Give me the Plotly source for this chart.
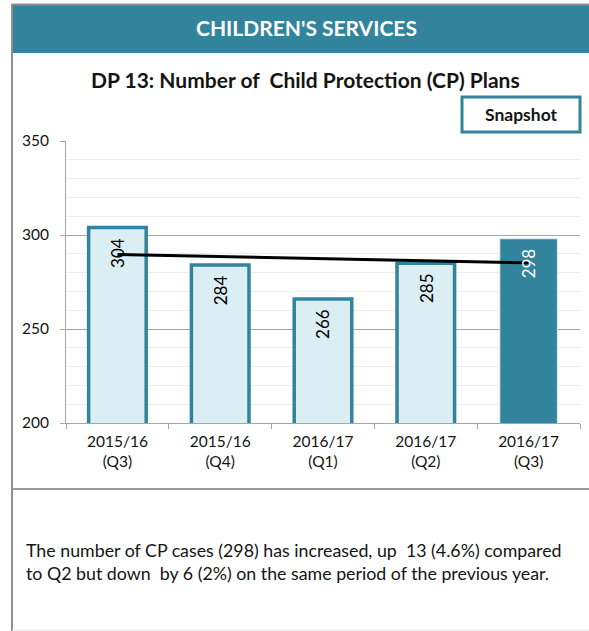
import plotly.graph_objects as go

# ---- data ----
categories = ["2015/16<br>(Q3)", "2015/16<br>(Q4)", "2016/17<br>(Q1)", "2016/17<br>(Q2)", "2016/17<br>(Q3)"]
values = [304, 284, 266, 285, 298]
trend_values = [289.6, 285.2]  # linear trend line end points
y_ticks = [200, 250, 300, 350]

header_text = "CHILDREN'S SERVICES"
title_text = "DP 13: Number of  Child Protection (CP) Plans"
badge_text = "Snapshot"
comment_lines = [
    "The number of CP cases (298) has increased, up  13 (4.6%) compared",
    "to Q2 but down  by 6 (2%) on the same period of the previous year.",
]

# ---- styles ----
W, H = 589, 631
ML, MR, MT, MB = 66, 9, 141, 208
TEAL = "#31849B"
LIGHT = "#DBEEF4"
FONT = "Lato"
TXT = "#141414"

def px(x):
    return (x - ML) / (W - ML - MR)

def py(y):
    return (H - MB - y) / (H - MT - MB)

fill_colors = [LIGHT] * (len(values) - 1) + [TEAL]
line_colors = [TEAL] * (len(values) - 1) + [LIGHT]
line_widths = [3.5] * (len(values) - 1) + [1]
label_colors = ["#000000"] * (len(values) - 1) + ["#FFFFFF"]

fig = go.Figure()
fig.add_trace(go.Bar(
    x=categories, y=values, width=0.56,
    marker=dict(color=fill_colors, line=dict(color=line_colors, width=line_widths)),
    hoverinfo="skip", showlegend=False,
))
fig.add_trace(go.Scatter(
    x=[categories[0], categories[-1]], y=trend_values, mode="lines",
    line=dict(color="#000000", width=3), hoverinfo="skip", showlegend=False,
))

annotations = []
for c, v, col in zip(categories, values, label_colors):
    annotations.append(dict(
        x=c, y=v, xref="x", yref="y", text=str(v), showarrow=False,
        textangle=-90, yshift=-25, font=dict(family=FONT, size=17, color=col),
    ))

# header
annotations.append(dict(x=px(306), y=py(28), xref="paper", yref="paper", text=f"<b>{header_text}</b>",
                        showarrow=False, xanchor="center", yanchor="middle",
                        font=dict(family=FONT, size=21, color="#FFFFFF")))
# title
annotations.append(dict(x=px(305), y=py(79), xref="paper", yref="paper", text=f"<b>{title_text}</b>",
                        showarrow=False, xanchor="center", yanchor="middle",
                        font=dict(family=FONT, size=21, color=TXT)))
# badge
annotations.append(dict(x=px(521), y=py(114), xref="paper", yref="paper", text=f"<b>{badge_text}</b>",
                        showarrow=False, xanchor="center", yanchor="middle",
                        font=dict(family=FONT, size=17.5, color=TXT)))
# comment
annotations.append(dict(x=px(24), y=py(561), xref="paper", yref="paper", text="<br>".join(comment_lines),
                        showarrow=False, xanchor="left", yanchor="middle", align="left",
                        font=dict(family=FONT, size=17.8, color=TXT)))

shapes = [
    dict(type="rect", xref="paper", yref="paper", x0=px(12), x1=px(589), y0=py(53), y1=py(5),
         fillcolor=TEAL, line=dict(width=0)),
    dict(type="line", xref="paper", yref="paper", x0=px(12), x1=px(589), y0=py(4.5), y1=py(4.5),
         line=dict(color="#8F8F8F", width=2)),
    dict(type="line", xref="paper", yref="paper", x0=px(12), x1=px(12), y0=py(4), y1=py(631),
         line=dict(color="#8F8F8F", width=2)),
    dict(type="line", xref="paper", yref="paper", x0=px(12), x1=px(589), y0=py(489), y1=py(489),
         line=dict(color="#9A9A9A", width=2)),
    dict(type="line", xref="paper", yref="paper", x0=px(12), x1=px(589), y0=py(630), y1=py(630),
         line=dict(color="#E6E6E6", width=1)),
    dict(type="rect", xref="paper", yref="paper", x0=px(462), x1=px(580), y0=py(132), y1=py(97),
         fillcolor="#FFFFFF", line=dict(color=TEAL, width=3)),
]

fig.update_layout(
    width=W, height=H, autosize=False,
    margin=dict(l=ML, r=MR, t=MT, b=MB, pad=0),
    paper_bgcolor="#FFFFFF", plot_bgcolor="#FFFFFF",
    showlegend=False, bargap=0.44,
    annotations=annotations, shapes=shapes,
    xaxis=dict(
        type="category", tickson="boundaries", ticks="outside", ticklen=5, tickcolor="#A6A6A6",
        showline=True, linecolor="#A6A6A6", linewidth=1, showgrid=False,
        tickfont=dict(family=FONT, size=15.5, color=TXT), ticklabelstandoff=4,
        fixedrange=True,
    ),
    yaxis=dict(
        range=[200, 350], tickvals=y_ticks, ticks="outside", ticklen=5, tickcolor="#A6A6A6",
        showline=True, linecolor="#A6A6A6", linewidth=1,
        showgrid=True, gridcolor="#A6A6A6", gridwidth=1, zeroline=False,
        minor=dict(dtick=10, showgrid=True, gridcolor="#EDEDED", gridwidth=1),
        tickfont=dict(family=FONT, size=15.5, color=TXT), ticklabelstandoff=8,
        fixedrange=True,
    ),
)

fig.write_html("out.html")
